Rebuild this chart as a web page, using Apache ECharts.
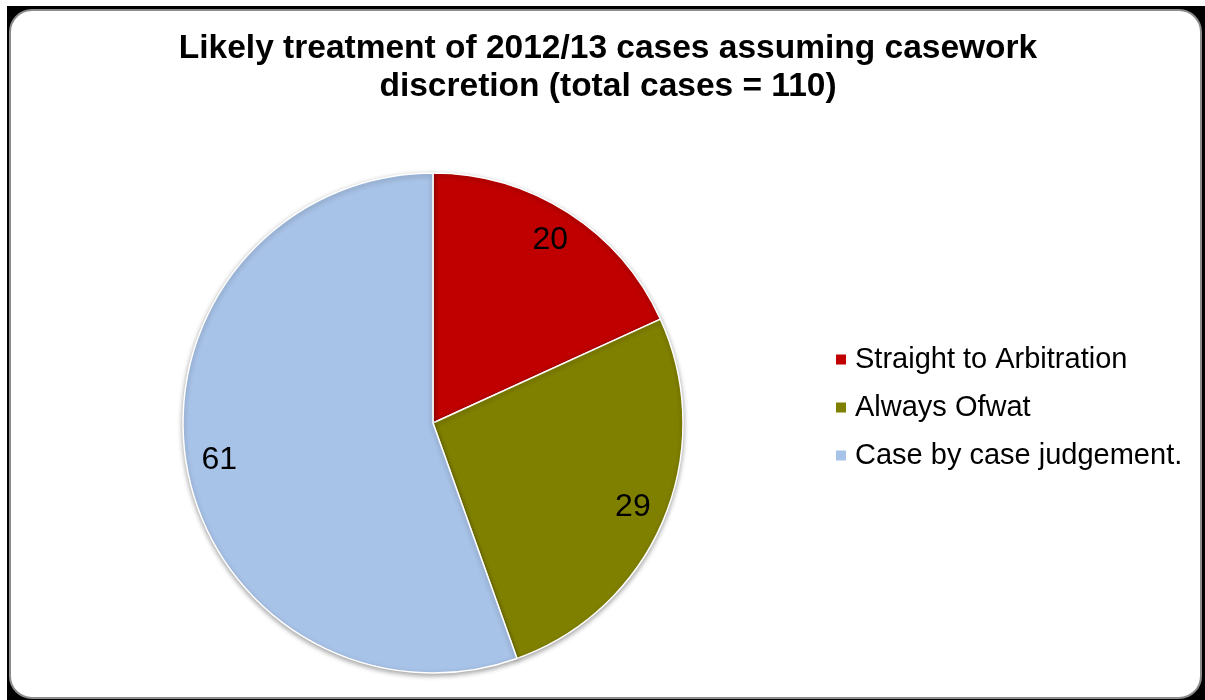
<!DOCTYPE html>
<html>
<head>
<meta charset="utf-8">
<script src="https://cdn.jsdelivr.net/npm/echarts@6/dist/echarts.min.js"></script>
<style>
html,body{margin:0;padding:0;background:#fff;}
#chart{width:1205px;height:700px;}
</style>
</head>
<body>
<div id="chart"></div>
<script>
const titleText = 'Likely treatment of 2012/13 cases assuming casework\ndiscretion (total cases = 110)';
const categories = ['Straight to Arbitration', 'Always Ofwat', 'Case by case judgement.'];
const values = [20, 29, 61];
const colors = ['#C00000', '#808000', '#A8C3E8'];

const data = categories.map((c, i) => ({ name: c, value: values[i], itemStyle: { color: colors[i] } }));

const chart = echarts.init(document.getElementById('chart'), null, { renderer: 'canvas' });
chart.setOption({
  animation: false,
  graphic: [
    { type: 'rect', z: -10, shape: { x: 7, y: 6, width: 1198, height: 694 }, style: { fill: '#000' } },
    { type: 'rect', z: -9, shape: { x: 10, y: 10, width: 1191, height: 688, r: 22 }, style: { fill: '#fff', stroke: '#8c8c8c', lineWidth: 2 } }
  ],
  title: {
    text: titleText,
    left: 608,
    textAlign: 'center',
    top: 30,
    padding: 0,
    textStyle: { fontFamily: 'Liberation Sans', fontWeight: 'bold', fontSize: 33.5, lineHeight: 38, color: '#000' }
  },
  legend: {
    orient: 'vertical',
    left: 834,
    top: 345,
    padding: 0,
    itemWidth: 12,
    itemHeight: 12,
    itemGap: 19,
    icon: 'rect',
    data: categories,
    textStyle: { fontFamily: 'Liberation Sans', fontSize: 29, color: '#000', padding: [0, 0, 0, 3] },
    selectedMode: false
  },
  series: [
    {
      type: 'pie',
      center: [433, 423],
      radius: [0, 250],
      startAngle: 90,
      clockwise: true,
      data: data,
      label: { show: false },
      labelLine: { show: false },
      itemStyle: { borderColor: '#fff', borderWidth: 1.5, shadowBlur: 5, shadowColor: 'rgba(0,0,0,0.35)', shadowOffsetY: 2 },
      emphasis: { disabled: true }
    },
    {
      type: 'pie',
      center: [433, 423],
      radius: [178, 250],
      startAngle: 90,
      clockwise: true,
      silent: true,
      data: data.map(d => ({ name: d.name, value: d.value, itemStyle: { color: 'rgba(0,0,0,0)' } })),
      label: { show: true, position: 'inside', formatter: '{c}', fontFamily: 'Liberation Sans', fontSize: 32, color: '#000' },
      labelLine: { show: false },
      itemStyle: { borderWidth: 0 },
      emphasis: { disabled: true }
    }
  ]
});
</script>
</body>
</html>
